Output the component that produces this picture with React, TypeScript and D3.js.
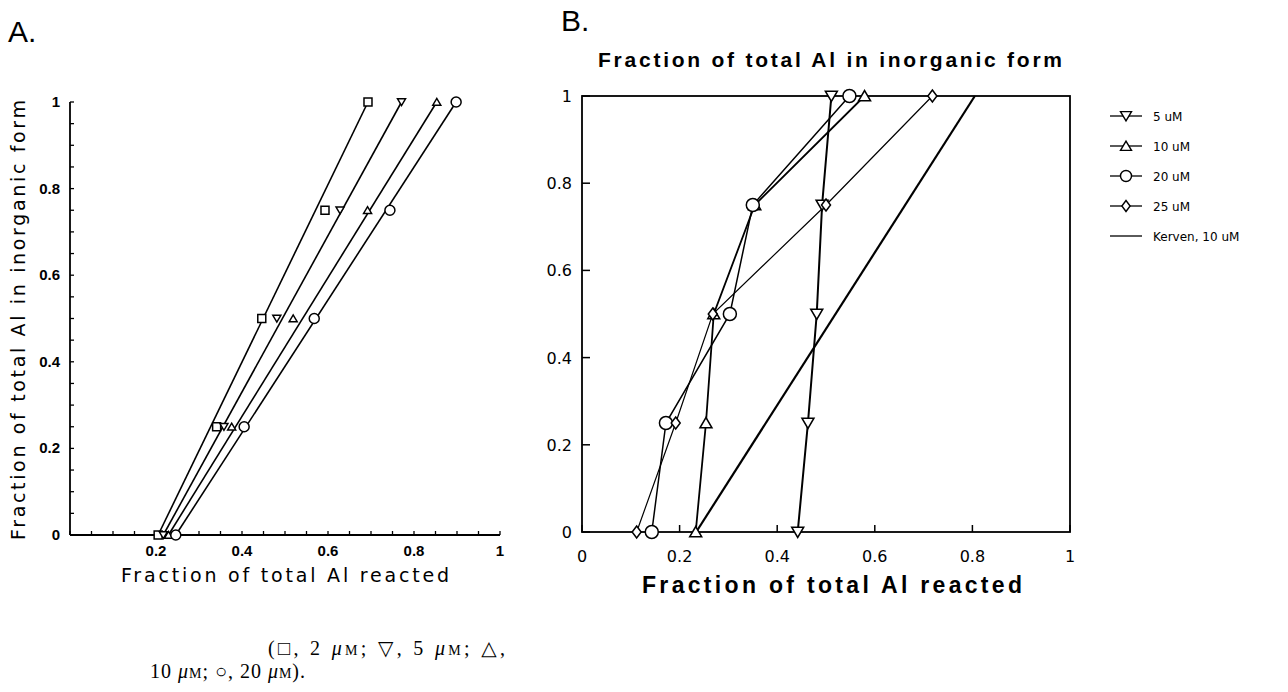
import React from "react";
import * as d3 from "d3";

// ---------- Data ----------
const levelsY = [0, 0.25, 0.5, 0.75, 1];

// Panel A (fraction reacted at each inorganic fraction level)
const aSquare2uM = [0.205, 0.341, 0.446, 0.593, 0.693];
const aDown5uM = [0.217, 0.358, 0.481, 0.628, 0.771];
const aUp10uM = [0.229, 0.376, 0.519, 0.692, 0.853];
const aCircle20uM = [0.246, 0.405, 0.568, 0.744, 0.898];

// Panel B
const bDown5uM = [0.442, 0.463, 0.481, 0.492, 0.511];
const bUp10uM = [0.233, 0.254, 0.27, 0.354, 0.579];
const bCircle20uM = [0.143, 0.172, 0.303, 0.35, 0.548];
const bDiamond25uM = [0.112, 0.192, 0.268, 0.5, 0.718];
const kervenX = [0.234, 0.805];
const kervenY = [0, 1];

const aXTicks = [0.2, 0.4, 0.6, 0.8, 1];
const aYTicks = [0, 0.2, 0.4, 0.6, 0.8, 1];
const bTicks = [0, 0.2, 0.4, 0.6, 0.8, 1];
const legendLabels = ["5 uM", "10 uM", "20 uM", "25 uM", "Kerven, 10 uM"];

type Shape = "square" | "down" | "up" | "circle" | "diamond";

function markerPath(shape: Shape, s: number): string {
  const h = s / 2;
  switch (shape) {
    case "square":
      return `M${-h},${-h}H${h}V${h}H${-h}Z`;
    case "down":
      return `M${-h},${-h * 0.8}H${h}L0,${h * 0.9}Z`;
    case "up":
      return `M${-h},${h * 0.8}H${h}L0,${-h * 0.9}Z`;
    case "diamond":
      return `M0,${-h}L${h * 0.75},0L0,${h}L${-h * 0.75},0Z`;
    default:
      return "";
  }
}

function Marker({ shape, x, y, s, sw }: { shape: Shape; x: number; y: number; s: number; sw: number }) {
  if (shape === "circle") {
    return <circle cx={x} cy={y} r={s / 2} fill="white" stroke="#000" strokeWidth={sw} />;
  }
  return <path d={markerPath(shape, s)} transform={`translate(${x},${y})`} fill="white" stroke="#000" strokeWidth={sw} />;
}

export default function App() {
  // Panel A scales
  const ax = d3.scaleLinear().domain([0, 1]).range([70, 500]);
  const ay = d3.scaleLinear().domain([0, 1]).range([535, 102]);
  // Panel B scales
  const bx = d3.scaleLinear().domain([0, 1]).range([582, 1070]);
  const by = d3.scaleLinear().domain([0, 1]).range([532, 96]);

  const aSeries: { xs: number[]; shape: Shape }[] = [
    { xs: aSquare2uM, shape: "square" },
    { xs: aDown5uM, shape: "down" },
    { xs: aUp10uM, shape: "up" },
    { xs: aCircle20uM, shape: "circle" },
  ];
  const bSeries: { xs: number[]; shape: Shape; w: number }[] = [
    { xs: bDown5uM, shape: "down", w: 2 },
    { xs: bUp10uM, shape: "up", w: 1.8 },
    { xs: bCircle20uM, shape: "circle", w: 1.5 },
    { xs: bDiamond25uM, shape: "diamond", w: 1.2 },
  ];

  const lineA = d3.line<number>().x((d) => ax(d)).y((_, i) => ay(i === 0 ? levelsY[0] : levelsY[levelsY.length - 1]));
  const lineB = d3.line<[number, number]>().x((d) => bx(d[0])).y((d) => by(d[1]));

  const minorA = d3.range(0, 1.0001, 0.05);

  const sans = "'Liberation Sans', Arial, sans-serif";
  const light = "'DejaVu Sans', sans-serif";
  const serif = "'Liberation Serif', 'DejaVu Serif', serif";

  return (
    <svg
      width={1288}
      height={692}
      style={{ position: "absolute", left: 0, top: 0, display: "block", background: "#fff" }}
    >
      {/* Panel letters */}
      <text x={8} y={42} fontFamily={sans} fontSize={30} fill="#000">A.</text>
      <text x={561} y={31} fontFamily={sans} fontSize={30} fill="#000">B.</text>

      {/* ---------- Panel A ---------- */}
      <g>
        <line x1={ax(0)} x2={ax(0)} y1={ay(0)} y2={ay(1)} stroke="#000" strokeWidth={1.8} />
        <line x1={ax(0)} x2={ax(1)} y1={ay(0)} y2={ay(0)} stroke="#000" strokeWidth={1.8} />
        {minorA.map((t, i) => (
          <line key={"ayt" + i} x1={ax(0)} x2={ax(0) + 4} y1={ay(t)} y2={ay(t)} stroke="#000" strokeWidth={1.3} />
        ))}
        {minorA.map((t, i) => (
          <line key={"axt" + i} x1={ax(t)} x2={ax(t)} y1={ay(0)} y2={ay(0) - 4} stroke="#000" strokeWidth={1.3} />
        ))}
        {aYTicks.map((t) => (
          <text key={"ayl" + t} x={ax(0) - 10} y={ay(t) + 5} textAnchor="end" fontFamily={sans} fontWeight="bold" fontSize={15}>
            {t}
          </text>
        ))}
        {aXTicks.map((t) => (
          <text key={"axl" + t} x={ax(t)} y={ay(0) + 21} textAnchor="middle" fontFamily={sans} fontWeight="bold" fontSize={15}>
            {t}
          </text>
        ))}
        <text x={285} y={582} textAnchor="middle" fontFamily={light} fontSize={19} textLength={328} lengthAdjust="spacing">
          Fraction of total Al reacted
        </text>
        <text
          transform={`translate(25,320) rotate(-90)`}
          textAnchor="middle"
          fontFamily={light}
          fontSize={19}
          textLength={440}
          lengthAdjust="spacing"
        >
          Fraction of total Al in inorganic form
        </text>
        {aSeries.map((s, si) => (
          <path
            key={"al" + si}
            d={lineA([s.xs[0], s.xs[s.xs.length - 1]]) || ""}
            fill="none"
            stroke="#000"
            strokeWidth={1.6}
          />
        ))}
        {aSeries.map((s, si) =>
          s.xs.map((v, i) => (
            <Marker key={`am${si}-${i}`} shape={s.shape} x={ax(v)} y={ay(levelsY[i])} s={si === 3 ? 10 : 8} sw={1.5} />
          ))
        )}
      </g>

      {/* ---------- Panel B ---------- */}
      <g>
        <text x={830} y={67} textAnchor="middle" fontFamily={sans} fontWeight="bold" fontSize={21} textLength={464} lengthAdjust="spacing">
          Fraction of total Al in inorganic form
        </text>
        <rect x={bx(0)} y={by(1)} width={bx(1) - bx(0)} height={by(0) - by(1)} fill="none" stroke="#000" strokeWidth={1.8} />
        {bTicks.map((t) => (
          <line key={"byt" + t} x1={bx(0)} x2={bx(0) + 8} y1={by(t)} y2={by(t)} stroke="#000" strokeWidth={1.5} />
        ))}
        {bTicks.map((t) => (
          <line key={"bxt" + t} x1={bx(t)} x2={bx(t)} y1={by(0)} y2={by(0) - 7} stroke="#000" strokeWidth={1.5} />
        ))}
        {bTicks.map((t) => (
          <text key={"byl" + t} x={bx(0) - 10} y={by(t) + 6} textAnchor="end" fontFamily={light} fontSize={16}>
            {t}
          </text>
        ))}
        {bTicks.map((t) => (
          <text key={"bxl" + t} x={bx(t)} y={by(0) + 30} textAnchor="middle" fontFamily={light} fontSize={16}>
            {t}
          </text>
        ))}
        <text x={832} y={593} textAnchor="middle" fontFamily={sans} fontWeight="bold" fontSize={23} textLength={380} lengthAdjust="spacing">
          Fraction of total Al reacted
        </text>

        {/* Kerven line */}
        <path
          d={lineB(kervenX.map((v, i) => [v, kervenY[i]] as [number, number])) || ""}
          fill="none"
          stroke="#000"
          strokeWidth={2.2}
        />
        {bSeries.map((s, si) => (
          <path
            key={"bl" + si}
            d={lineB(s.xs.map((v, i) => [v, levelsY[i]] as [number, number])) || ""}
            fill="none"
            stroke="#000"
            strokeWidth={s.w}
          />
        ))}
        {bSeries.map((s, si) =>
          s.xs.map((v, i) => (
            <Marker key={`bm${si}-${i}`} shape={s.shape} x={bx(v)} y={by(levelsY[i])} s={s.shape === "circle" ? 13 : 12} sw={1.5} />
          ))
        )}

        {/* Legend */}
        {legendLabels.map((lab, i) => {
          const y = 116 + i * 30;
          const shape: Shape | null = i === 0 ? "down" : i === 1 ? "up" : i === 2 ? "circle" : i === 3 ? "diamond" : null;
          return (
            <g key={"lg" + i}>
              <line x1={1110} x2={1142} y1={y} y2={y} stroke="#000" strokeWidth={1.3} />
              {shape && <Marker shape={shape} x={1126} y={y} s={11} sw={1.4} />}
              <text x={1153} y={y + 5} fontFamily={light} fontSize={12}>
                {lab}
              </text>
            </g>
          );
        })}
      </g>

      {/* Caption */}
      <text x={268} y={655} fontFamily={serif} fontSize={20} textLength={237} lengthAdjust="spacing">
        (□, 2 <tspan fontStyle="italic">μ</tspan>
        <tspan fontSize={14}>M</tspan>; ▽, 5 <tspan fontStyle="italic">μ</tspan>
        <tspan fontSize={14}>M</tspan>; △,
      </text>
      <text x={150} y={678} fontFamily={serif} fontSize={20} textLength={155} lengthAdjust="spacing">
        10 <tspan fontStyle="italic">μ</tspan>
        <tspan fontSize={14}>M</tspan>; ○, 20 <tspan fontStyle="italic">μ</tspan>
        <tspan fontSize={14}>M</tspan>).
      </text>
    </svg>
  );
}
